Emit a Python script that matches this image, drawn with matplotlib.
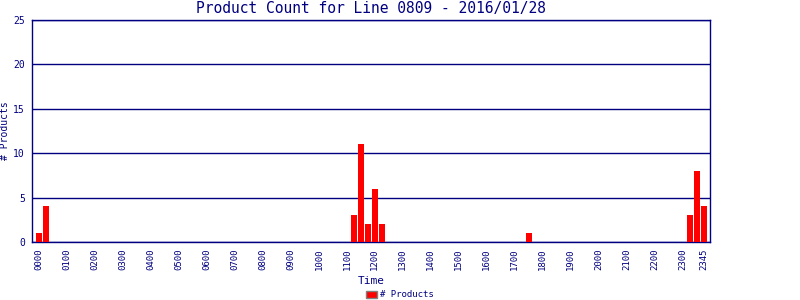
import matplotlib
matplotlib.use("Agg")
import matplotlib.pyplot as plt

# 15-minute slots across the day
slots = [f"{h:02d}{m:02d}" for h in range(24) for m in (0, 15, 30, 45)]
counts = [0] * 96
values = {"0000": 1, "0015": 4,
          "1115": 3, "1130": 11, "1145": 2, "1200": 6, "1215": 2,
          "1730": 1,
          "2315": 3, "2330": 8, "2345": 4}
for k, v in values.items():
    counts[slots.index(k)] = v

tick_labels = [f"{h:02d}00" for h in range(24)] + ["2345"]
y_ticks = [0, 5, 10, 15, 20, 25]

navy = "#000080"
plt.rcParams['font.family'] = ['DejaVu Sans Mono']

fig = plt.figure(figsize=(8, 3), dpi=100)
ax = fig.add_axes([0.04, 0.1933, 0.8475, 0.74])
x = list(range(len(slots)))
bars = ax.bar(x, counts, width=0.86, color="#ff0000", zorder=3, label="# Products")
ax.set_xlim(-1, 95.9)
ax.set_ylim(0, 25)
ax.set_yticks(y_ticks)
ax.set_yticklabels([str(t) for t in y_ticks], fontsize=7, color=navy)
tick_pos = [slots.index(t) for t in tick_labels]
ax.set_xticks(tick_pos)
ax.set_xticklabels(tick_labels, rotation=90, fontsize=6.5, color=navy)
ax.tick_params(length=0, pad=5)
ax.grid(axis='y', color=navy, linewidth=1, zorder=1)
for s in ax.spines.values():
    s.set_color(navy)
    s.set_linewidth(1)
ax.set_title("Product Count for Line 0809 - 2016/01/28", fontsize=10.5, color=navy, pad=5)
ax.set_xlabel("Time", fontsize=8, color=navy, labelpad=4)
ax.set_ylabel("# Products", fontsize=7, color=navy)
ax.yaxis.set_label_coords(-0.033, 0.5)
leg = fig.legend(handles=[bars], labels=["# Products"], loc="center", bbox_to_anchor=(0.5, 0.017),
                 frameon=False, fontsize=6.5, handlelength=1.2, handleheight=0.9, handletextpad=0.4)
for t in leg.get_texts():
    t.set_color(navy)
for p in leg.get_patches():
    p.set_edgecolor("#808080")
fig.savefig("out.png", dpi=100)
